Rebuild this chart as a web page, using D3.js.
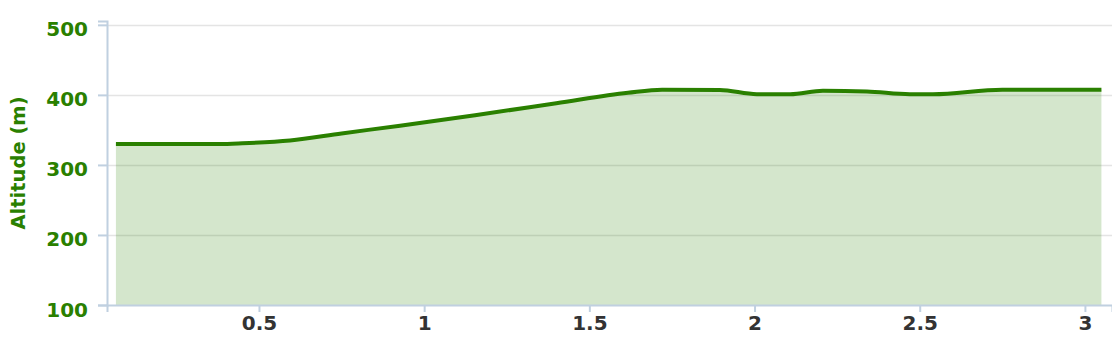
<!DOCTYPE html>
<html>
<head>
<meta charset="utf-8">
<script src="https://cdn.jsdelivr.net/npm/d3@7"></script>
<style>
  body { margin: 0; background: #fff; }
  svg { display: block; font-family: "DejaVu Sans", Verdana, sans-serif; }
</style>
</head>
<body>
<div id="chart"></div>
<script>
// elevation profile
const distanceKm = [0.067, 0.2, 0.38, 0.45, 0.594, 0.75, 0.927, 1.154, 1.4, 1.617, 1.72, 1.895, 2.007, 2.108, 2.207, 2.34, 2.47, 2.54, 2.75, 3.05]
const altitudeM = [330, 330, 330, 331, 335, 345, 356, 371, 388, 403, 407.5, 407, 401, 401, 406, 405, 401, 401, 407.5, 407.5]
const xTicks = [0.5, 1, 1.5, 2, 2.5, 3]
const yTicks = [100, 200, 300, 400, 500]
const yTitle = "Altitude (m)"

const width = 1112, height = 340
const margin = {top: 21, right: 0, bottom: 35, left: 107}
const green = "#2a8000"
const axisColor = "#c0d0e0"

const data = distanceKm.map((d, i) => ({x: d, y: altitudeM[i]}))

const x = d3.scaleLinear()
  .domain([0.04, 3.082])
  .range([margin.left, width - margin.right])

const y = d3.scaleLinear()
  .domain([100, 505.5])
  .range([height - margin.bottom, margin.top])

const svg = d3.select("#chart").append("svg")
  .attr("width", width)
  .attr("height", height)

// grid
svg.append("g")
  .selectAll("line")
  .data(yTicks.filter(d => d > 100))
  .join("line")
    .attr("x1", margin.left)
    .attr("x2", width - margin.right)
    .attr("y1", d => Math.round(y(d)) + 0.5)
    .attr("y2", d => Math.round(y(d)) + 0.5)
    .attr("stroke", "#e4e4e4")
    .attr("stroke-width", 1.5)

// area + line
const area = d3.area()
  .x(d => x(d.x))
  .y0(y(100))
  .y1(d => y(d.y))
  .curve(d3.curveMonotoneX)

const line = d3.line()
  .x(d => x(d.x))
  .y(d => y(d.y))
  .curve(d3.curveMonotoneX)

svg.append("path")
  .datum(data)
  .attr("d", area)
  .attr("fill", green)
  .attr("fill-opacity", 0.2)

svg.append("path")
  .datum(data)
  .attr("d", line)
  .attr("fill", "none")
  .attr("stroke", green)
  .attr("stroke-width", 4)
  .attr("stroke-linejoin", "round")

// x axis
const xAxis = svg.append("g")
  .attr("transform", `translate(0,${y(100)})`)
  .call(d3.axisBottom(x).tickValues(xTicks).tickSizeOuter(0).tickSize(7).tickPadding(4)
    .tickFormat(d3.format("")))

xAxis.select(".domain").attr("stroke", axisColor).attr("stroke-width", 2)
xAxis.selectAll(".tick line").attr("stroke", axisColor).attr("stroke-width", 2)
xAxis.selectAll(".tick text")
  .attr("fill", "#333")
  .attr("font-size", 20)
  .attr("font-weight", "bold")
  .attr("font-family", "DejaVu Sans")
  .attr("dy", "0.7em")

// y axis
const yAxis = svg.append("g")
  .attr("transform", `translate(${margin.left},0)`)
  .call(d3.axisLeft(y).tickValues(yTicks).tickSizeOuter(0).tickSize(9).tickPadding(10))

yAxis.select(".domain").attr("stroke", axisColor).attr("stroke-width", 2)
yAxis.selectAll(".tick line").attr("stroke", axisColor).attr("stroke-width", 2)
yAxis.selectAll(".tick text")
  .attr("fill", green)
  .attr("font-size", 20)
  .attr("font-weight", "bold")
  .attr("font-family", "DejaVu Sans")
  .attr("dy", "0.55em")

svg.append("text")
  .attr("transform", `translate(25,${(margin.top + y(100)) / 2}) rotate(-90)`)
  .attr("text-anchor", "middle")
  .attr("fill", green)
  .attr("font-size", 19.5)
  .attr("font-weight", "bold")
  .text(yTitle)
</script>
</body>
</html>
